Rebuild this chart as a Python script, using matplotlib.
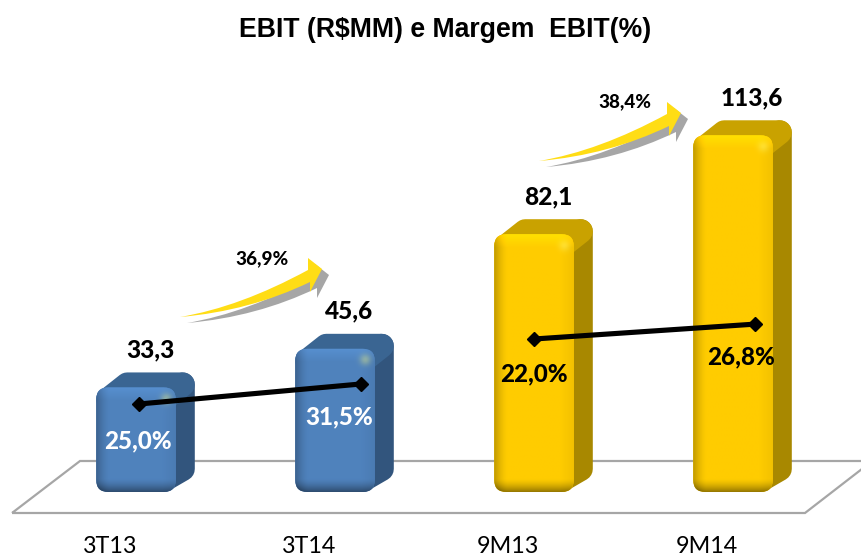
import numpy as np
import matplotlib
matplotlib.use('Agg')
import matplotlib.pyplot as plt
from matplotlib.patches import FancyBboxPatch, PathPatch, Polygon
from matplotlib.path import Path
from matplotlib.transforms import IdentityTransform

categories = ['3T13', '3T14', '9M13', '9M14']
ebit = [33.3, 45.6, 82.1, 113.6]
ebit_labels = ['33,3', '45,6', '82,1', '113,6']
margin_quarter = [25.0, 31.5]
margin_nine = [22.0, 26.8]
margin_labels = ['25,0%', '31,5%', '22,0%', '26,8%']
growth_labels = ['36,9%', '38,4%']

# the line points do not sit on the bar centres in the original
margin_x_quarter = [0.015, 1.13]
margin_x_nine = [2.0, 3.11]

BLUE = dict(front=(0.31, 0.51, 0.74), top='#3A6592', side='#32557D')
GOLD = dict(front=(1.0, 0.80, 0.0), top='#C9A200', side='#A88800')
bar_styles = [BLUE, BLUE, GOLD, GOLD]
label_dx = [0.07, 0.07, 0.07, 0.095]

W, H = 862, 558
X0, STEP = 136, 199      # pixel of first bar centre, pixels between bars
Y0, UNIT = 492, 3.14     # pixel of value 0, pixels per R$MM
AX_TOP, AX_BOTTOM = 60, 535
HEAVY = 900

fig = plt.figure(figsize=(W / 100, H / 100), dpi=100)
ax = fig.add_axes([0, (H - AX_BOTTOM) / H, 1, (AX_BOTTOM - AX_TOP) / H])
ax.set_xlim(-X0 / STEP, (W - X0) / STEP)
ax.set_ylim((Y0 - AX_BOTTOM) / UNIT, (Y0 - AX_TOP) / UNIT)
ax.autoscale(False)
for s in ax.spines.values():
    s.set_visible(False)
ax.set_yticks([])
ax.set_xticks(np.arange(4) - 0.13, categories, fontsize=16.8, family='Lato')
ax.tick_params(axis='x', length=0, pad=1)

px = IdentityTransform()


def py(y):
    # image rows count down, display coords count up
    return H - y


# floor
floor = Polygon([(12, py(513)), (80, py(461)), (880, py(461)), (880, py(455)), (805, py(513))],
                closed=True, fill=False, edgecolor='#A6A6A6', lw=1.6, transform=px, zorder=1)
ax.add_patch(floor)


def front_shading(w, h, base):
    # bevelled front face: light on top and right, dark at the bottom and left
    yy, xx = np.mgrid[0:h, 0:w]
    img = np.ones((h, w, 3)) * np.array(base)
    bevel = 13.0
    top = np.clip(1 - yy / bevel, 0, 1)
    bottom = np.clip(1 - (h - 1 - yy) / bevel, 0, 1)
    left = np.clip(1 - xx / bevel, 0, 1)
    right = np.clip(1 - (w - 1 - xx) / bevel, 0, 1)
    shade = 1 + 0.10 * top - 0.40 * bottom ** 1.5 - 0.24 * left ** 1.5 - 0.05 * right
    img = img * shade[..., None]
    glow = np.exp(-(((xx - (w - 10)) ** 2 + (yy - 11) ** 2) / 30.0))
    img = img + (np.array([1.0, 1.0, 0.5]) - img) * 0.35 * glow[..., None]
    return np.clip(img, 0, 1)


def bar3d(i, value, style):
    (x0, y0), (x1, y1) = ax.transData.transform([(i - 0.2, 0), (i + 0.2, value)])
    dx, dy = 19, 15
    r = 12
    lw = 2 * r * 72 / 100
    side = Polygon([(x1 - r, y1 - r), (x1 + dx - r, y1 + dy - r),
                    (x1 + dx - r, y0 + dy + r - 4), (x1 - r, y0 + r)],
                   closed=True, facecolor=style['side'], edgecolor=style['side'], lw=lw,
                   joinstyle='round', transform=px, zorder=2)
    top = Polygon([(x0 + r, y1 - r), (x1 - r, y1 - r), (x1 + dx - r, y1 + dy - r), (x0 + dx + r, y1 + dy - r)],
                  closed=True, facecolor=style['top'], edgecolor=style['top'], lw=lw,
                  joinstyle='round', transform=px, zorder=2.1)
    ax.add_patch(side)
    ax.add_patch(top)
    face = FancyBboxPatch((x0 + r, y0 + r), x1 - x0 - 2 * r, y1 - y0 - 2 * r,
                          boxstyle=f'round,pad={r},rounding_size={r}',
                          facecolor=style['front'], edgecolor='none', transform=px, zorder=2.2)
    ax.add_patch(face)
    img = front_shading(int(x1 - x0), int(y1 - y0), style['front'])
    im = ax.imshow(img, extent=(x0, x1, y0, y1), origin='upper', aspect='auto',
                   transform=px, zorder=2.3, interpolation='bilinear')
    im.set_clip_path(face)


for i, v in enumerate(ebit):
    bar3d(i, v, bar_styles[i])
    ax.text(i + label_dx[i], v + 12.0, ebit_labels[i], ha='center', va='center', fontsize=17.6,
            fontweight=HEAVY, family='Lato', color='black', zorder=5)


def growth_arrow(tail_x, tail_y, color, zorder):
    # crescent shaped arrow, sizes in pixels relative to its tail
    pts = [(0, 0), (60, -10), (128, -47), (128, -47), (128, -59), (142, -48), (130, -25),
           (130, -35), (70, -6), (0, 0)]
    codes = [Path.MOVETO, Path.CURVE3, Path.CURVE3, Path.LINETO, Path.LINETO, Path.LINETO,
             Path.LINETO, Path.LINETO, Path.CURVE3, Path.CURVE3]
    verts = [(tail_x + a, py(tail_y + b)) for a, b in pts]
    ax.add_patch(PathPatch(Path(verts, codes), facecolor=color, edgecolor='none',
                           transform=px, zorder=zorder))


for (tx, ty) in [(180, 317), (539, 161)]:
    growth_arrow(tx + 7, ty + 6, '#A6A6A6', 3)
    growth_arrow(tx, ty, '#FFDD15', 3.1)

ax.text(262 / W, 1 - (259 - AX_TOP) / (AX_BOTTOM - AX_TOP), growth_labels[0], transform=ax.transAxes,
        ha='center', va='center', fontsize=13.6, fontweight=HEAVY, family='Lato', zorder=5)
ax.text(625 / W, 1 - (102 - AX_TOP) / (AX_BOTTOM - AX_TOP), growth_labels[1], transform=ax.transAxes,
        ha='center', va='center', fontsize=13.6, fontweight=HEAVY, family='Lato', zorder=5)

# margins: each pair has its own hidden scale
ax_q = ax.twinx()
ax_q.set_ylim(25 - (AX_BOTTOM - 404) / 3.08, 25 + (404 - AX_TOP) / 3.08)
ax_q.axis('off')
ax_n = ax.twinx()
ax_n.set_ylim(22 - (AX_BOTTOM - 339) / 3.1, 22 + (339 - AX_TOP) / 3.1)
ax_n.axis('off')

ax_q.plot(margin_x_quarter, margin_quarter, color='black', lw=3.7, marker='D', ms=7.5, solid_capstyle='butt')
ax_n.plot(margin_x_nine, margin_nine, color='black', lw=3.7, marker='D', ms=7.5, solid_capstyle='butt')

label_offsets = [(-1, -37), (-22, -33), (0, -35), (-14, -33)]
label_colors = ['white', 'white', 'black', 'black']
targets = [(ax_q, margin_x_quarter[0], margin_quarter[0]), (ax_q, margin_x_quarter[1], margin_quarter[1]),
           (ax_n, margin_x_nine[0], margin_nine[0]), (ax_n, margin_x_nine[1], margin_nine[1])]
for (a, x, y), off, col, lab in zip(targets, label_offsets, label_colors, margin_labels):
    a.annotate(lab, (x, y), xytext=(off[0] * 0.72, off[1] * 0.72), textcoords='offset points',
               ha='center', va='center', fontsize=17.4, fontweight=HEAVY, family='Lato', color=col)

ax.set_title('EBIT (R\\$MM) e Margem  EBIT(%)', x=445 / W, pad=16.3, fontsize=19.2, fontweight='bold',
             family='Liberation Sans')

fig.savefig('out.png', dpi=100)
